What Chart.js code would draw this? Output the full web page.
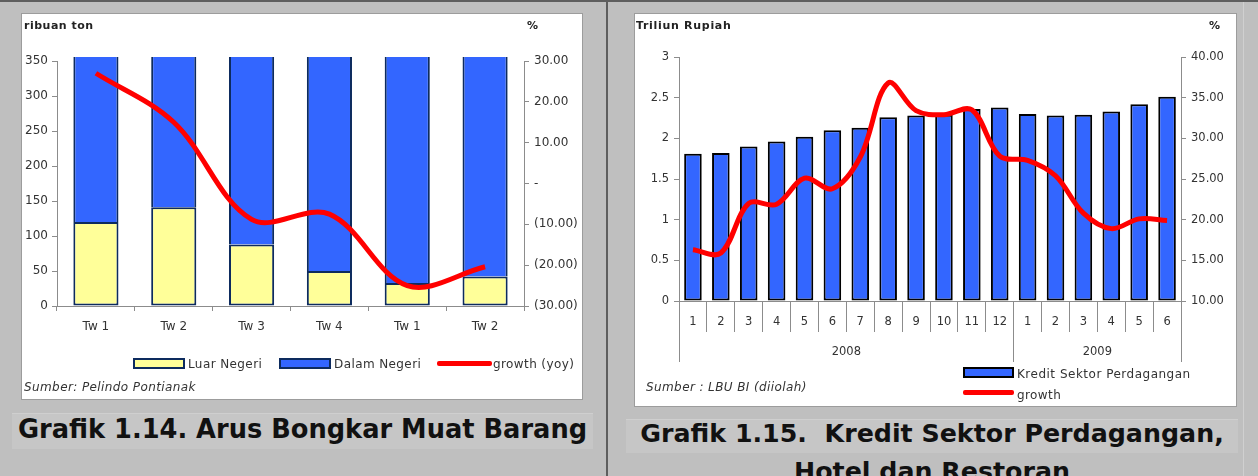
<!DOCTYPE html>
<html>
<head>
<meta charset="utf-8">
<script src="https://cdn.jsdelivr.net/npm/chart.js@4.4.1/dist/chart.umd.min.js"></script>
<style>
html,body{margin:0;padding:0;}
body{width:1258px;height:476px;overflow:hidden;background:#bfbfbf;position:relative;font-family:"DejaVu Sans",sans-serif;}
.a{position:absolute;}
.box{background:#fff;border:1px solid #9c9c9c;}
.hdr{position:absolute;font-weight:bold;font-size:11px;line-height:14px;color:#222;white-space:nowrap;letter-spacing:0.5px;}
.lg{position:absolute;font-size:12px;line-height:14px;color:#333;white-space:nowrap;letter-spacing:0.4px;}
.src{position:absolute;font-style:italic;font-size:12px;line-height:14px;color:#333;white-space:nowrap;letter-spacing:0.4px;}
.sw{position:absolute;box-sizing:border-box;}
.cap{position:absolute;font-weight:bold;color:#111;white-space:pre;text-align:center;}
canvas{position:absolute;left:0;top:0;}
</style>
</head>
<body>
<div class="a" style="left:0;top:0;width:1258px;height:2px;background:#5e5e5e"></div>
<div class="a" style="left:606px;top:0;width:2px;height:476px;background:#5e5e5e"></div>
<div class="a" style="left:1243px;top:2px;width:1px;height:474px;background:#d0d0d0"></div>

<!-- Chart 1 -->
<div class="a box" style="left:21px;top:13px;width:560px;height:385px;">
  <canvas id="c1" width="560" height="385"></canvas>
  <div class="hdr" style="left:2px;top:5px">ribuan ton</div>
  <div class="hdr" style="left:505px;top:5px">%</div>
  <div class="sw" style="left:111px;top:344px;width:52px;height:11px;background:#ffff99;border:2px solid #0d2b5e"></div>
  <div class="lg" style="left:166px;top:343px">Luar Negeri</div>
  <div class="sw" style="left:257px;top:344px;width:52px;height:11px;background:#3366ff;border:2px solid #0d2b5e"></div>
  <div class="lg" style="left:312px;top:343px">Dalam Negeri</div>
  <div class="sw" style="left:415px;top:347px;width:55px;height:5px;background:#ff0000;border-radius:2px"></div>
  <div class="lg" style="left:471px;top:343px">growth (yoy)</div>
  <div class="src" style="left:2px;top:366px">Sumber: Pelindo Pontianak</div>
</div>
<div class="a" style="left:12px;top:413px;width:581px;height:35px;background:#c6c6c6;border-top:1px solid #cfcfcf"></div>
<div class="cap" style="left:12px;top:414px;width:581px;font-size:25.7px;line-height:30px">Grafik 1.14. Arus Bongkar Muat Barang</div>

<!-- Chart 2 -->
<div class="a box" style="left:634px;top:13px;width:601px;height:392px;">
  <canvas id="c2" width="601" height="392"></canvas>
  <div class="hdr" style="left:1px;top:5px;letter-spacing:0.7px">Triliun Rupiah</div>
  <div class="hdr" style="left:574px;top:5px">%</div>
  <div class="sw" style="left:328px;top:353px;width:51px;height:11px;background:#3366ff;border:2px solid #000"></div>
  <div class="lg" style="left:382px;top:353px;letter-spacing:0.5px">Kredit Sektor Perdagangan</div>
  <div class="sw" style="left:328px;top:376px;width:51px;height:5px;background:#ff0000;border-radius:2px"></div>
  <div class="lg" style="left:382px;top:374px">growth</div>
  <div class="src" style="left:11px;top:366px">Sumber : LBU BI (diiolah)</div>
</div>
<div class="a" style="left:626px;top:419px;width:612px;height:33px;background:#c6c6c6;border-top:1px solid #cfcfcf"></div>
<div class="cap" style="left:626px;top:419px;width:612px;font-size:25.3px;line-height:30px">Grafik 1.15.  Kredit Sektor Perdagangan,</div>
<div class="cap" style="left:626px;top:457px;width:612px;font-size:25.3px;line-height:30px">Hotel dan Restoran</div>

<script>
// ---- Chart 1 data ----
const quarters = ['Tw 1', 'Tw 2', 'Tw 3', 'Tw 4', 'Tw 1', 'Tw 2'];
const luarNegeri = [120, 141, 88, 50, 33, 42];
const dalamNegeri = [300, 290, 310, 320, 330, 320];
const growthYoy = [27.0, 15.0, -8.8, -7.5, -25.0, -20.4];
const tonTicks = [0, 50, 100, 150, 200, 250, 300, 350];
const pctTicks1 = [-30, -20, -10, 0, 10, 20, 30];

// ---- Chart 2 data ----
const months = ['1','2','3','4','5','6','7','8','9','10','11','12','1','2','3','4','5','6'];
const years = ['2008', '2009'];
const monthsPerYear = [12, 6];
const kreditPerdagangan = [1.81, 1.82, 1.90, 1.96, 2.02, 2.10, 2.13, 2.26, 2.28, 2.29, 2.36, 2.38, 2.30, 2.28, 2.29, 2.33, 2.42, 2.51];
const growthKredit = [16.3, 15.9, 22.0, 21.9, 25.1, 23.8, 27.7, 36.8, 33.4, 32.9, 33.5, 27.8, 27.3, 25.4, 20.8, 18.9, 20.1, 19.9];
const rupiahTicks = [0, 0.5, 1, 1.5, 2, 2.5, 3];
const pctTicks2 = [10, 15, 20, 25, 30, 35, 40];

Chart.defaults.font.family = '"DejaVu Sans", sans-serif';
Chart.defaults.font.size = 12;
Chart.defaults.color = '#333';

const axisGray = '#8c8c8c';
const setTicks = arr => (s => { s.ticks = arr.map(v => ({value: v})); });

new Chart(document.getElementById('c1'), {
  type: 'bar',
  data: {
    labels: quarters,
    datasets: [
      {type: 'line', label: 'growth (yoy)', data: growthYoy, yAxisID: 'y1', borderColor: '#ff0000', borderWidth: 5,
       pointRadius: 0, tension: 0.35, fill: false, order: 0, clip: false},
      {label: 'Luar Negeri', data: luarNegeri, backgroundColor: '#ffff99', borderColor: '#0d2b5e', borderWidth: 2,
       borderSkipped: false, yAxisID: 'y', order: 1, barPercentage: 0.58, categoryPercentage: 1, clip: {left: 0, right: 0, top: 4, bottom: 0}},
      {label: 'Dalam Negeri', data: dalamNegeri, backgroundColor: '#3366ff', borderColor: '#0d2b5e',
       borderWidth: {left: 2, right: 2, top: 0, bottom: 0},
       borderSkipped: false, yAxisID: 'y', order: 1, barPercentage: 0.58, categoryPercentage: 1, clip: {left: 0, right: 0, top: 4, bottom: 0}}
    ]
  },
  options: {
    responsive: false, animation: false, events: [],
    layout: {padding: {left: 0, right: 0, top: 47, bottom: 53}},
    plugins: {legend: {display: false}, tooltip: {enabled: false}},
    scales: {
      x: {stacked: true, grid: {offset: true, drawOnChartArea: false, tickLength: 5, color: axisGray},
          border: {color: axisGray}, ticks: {padding: 9, maxRotation: 0}, afterFit: s => { s.height = 40; }},
      y: {position: 'left', stacked: true, min: 0, max: 350, afterBuildTicks: setTicks(tonTicks),
          grid: {drawOnChartArea: false, tickLength: 5, color: axisGray}, border: {color: axisGray},
          ticks: {padding: 4}, afterFit: s => { s.width = 35; }},
      y1: {position: 'right', min: -30, max: 30, afterBuildTicks: setTicks(pctTicks1),
          grid: {drawOnChartArea: false, tickLength: 5, color: axisGray}, border: {color: axisGray},
          ticks: {padding: 5, callback: v => Math.abs(v) < 1e-9 ? '-' : (v < 0 ? '(' + Math.abs(v).toFixed(2) + ')' : v.toFixed(2))},
          afterFit: s => { s.width = 58; }}
    }
  }
});

// year group boundaries and centres (in month-index units)
const yearBounds = [0];
monthsPerYear.forEach(n => yearBounds.push(yearBounds[yearBounds.length - 1] + n));
const yearCentres = monthsPerYear.map((n, i) => yearBounds[i] + n / 2);
const x2Ticks = [...yearBounds, ...yearCentres].sort((a, b) => a - b);

new Chart(document.getElementById('c2'), {
  type: 'bar',
  data: {
    labels: months,
    datasets: [
      {type: 'line', label: 'growth', data: growthKredit, yAxisID: 'y1', borderColor: '#ff0000', borderWidth: 5,
       pointRadius: 0, tension: 0.35, fill: false, order: 0, clip: false},
      {label: 'Kredit Sektor Perdagangan', data: kreditPerdagangan, backgroundColor: '#3366ff', borderColor: '#000',
       borderWidth: 2, borderSkipped: false, yAxisID: 'y', order: 1, barPercentage: 0.63, categoryPercentage: 1}
    ]
  },
  options: {
    responsive: false, animation: false, events: [],
    layout: {padding: {left: 0, right: 0, top: 43, bottom: 44}},
    plugins: {legend: {display: false}, tooltip: {enabled: false}},
    scales: {
      x: {grid: {offset: true, drawOnChartArea: false, tickLength: 31, color: axisGray},
          border: {color: axisGray}, ticks: {padding: -17, maxRotation: 0, autoSkip: false, font: {size: 11.5}},
          afterFit: s => { s.height = 31; }},
      x2: {type: 'linear', position: 'bottom', offset: false, min: 0, max: months.length, afterBuildTicks: setTicks(x2Ticks),
          grid: {offset: false, drawOnChartArea: false, tickLength: 30,
                 color: c => (c && c.tick && yearBounds.includes(c.tick.value)) ? axisGray : 'rgba(0,0,0,0)'},
          border: {display: false},
          ticks: {padding: -17, maxRotation: 0, autoSkip: false, font: {size: 11.5},
                  callback: v => { const i = yearCentres.indexOf(v); return i >= 0 ? years[i] : ''; }},
          afterFit: s => { s.height = 30; }},
      y: {position: 'left', min: 0, max: 3, afterBuildTicks: setTicks(rupiahTicks),
          grid: {drawOnChartArea: false, tickLength: 5, color: axisGray}, border: {color: axisGray},
          ticks: {padding: 5, font: {size: 11.5}, callback: v => String(v)}, afterFit: s => { s.width = 44; }},
      y1: {position: 'right', min: 10, max: 40, afterBuildTicks: setTicks(pctTicks2),
          grid: {drawOnChartArea: false, tickLength: 5, color: axisGray}, border: {color: axisGray},
          ticks: {padding: 5, font: {size: 11.5}, callback: v => v.toFixed(2)}, afterFit: s => { s.width = 55; }}
    }
  }
});
</script>
</body>
</html>
